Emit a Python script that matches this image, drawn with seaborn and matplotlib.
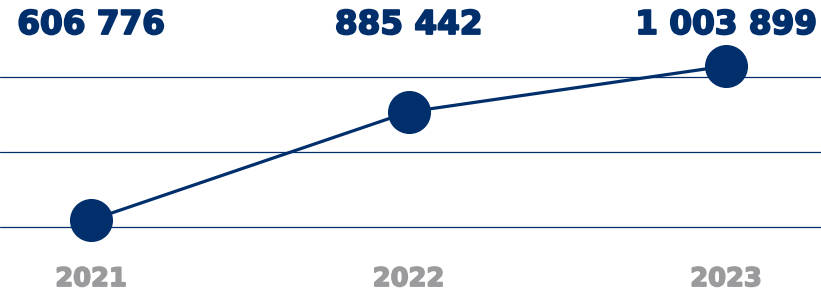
import matplotlib
matplotlib.use("Agg")
import matplotlib.pyplot as plt
import matplotlib.transforms as mtransforms
import matplotlib.patheffects as pe
import seaborn as sns
import pandas as pd

# data
years = [2021, 2022, 2023]
values = [606776, 885442, 1003899]
value_labels = ["606 776", "885 442", "1 003 899"]
year_labels = ["2021", "2022", "2023"]
grid_levels = [588700, 782100, 975500]

navy = "#002f6c"
grey = "#9b9b9d"

sns.set_style("white")
plt.rcParams["font.family"] = ["DejaVu Sans"]

df = pd.DataFrame({"year": years, "value": values})

fig = plt.figure(figsize=(8.21, 2.91), dpi=100)
ax = fig.add_axes([0, 0, 1, 1])

for g in grid_levels:
    ax.axhline(g, color=navy, linewidth=0.9, zorder=0)

sns.lineplot(data=df, x="year", y="value", ax=ax, color=navy, linewidth=2.3,
             marker="o", markersize=31, markeredgewidth=0, zorder=3)

ax.set_xlim(2020.713, 2023.299)
ax.set_ylim(423700, 1174100)

# thicker glyphs, closer to the heavy display font of the original
navy_fx = [pe.withStroke(linewidth=1.4, foreground=navy)]
grey_fx = [pe.withStroke(linewidth=1.2, foreground=grey)]

trans = mtransforms.blended_transform_factory(ax.transData, ax.transAxes)
for x, lab in zip(years, value_labels):
    ax.text(x, 0.916, lab, transform=trans, ha="center", va="center",
            fontsize=23.5, fontweight="bold", color=navy, path_effects=navy_fx)
for x, lab in zip(years, year_labels):
    ax.text(x, 0.041, lab, transform=trans, ha="center", va="center",
            fontsize=18.5, fontweight="bold", color=grey, path_effects=grey_fx)

ax.set_axis_off()
fig.savefig("out.png", dpi=100)
